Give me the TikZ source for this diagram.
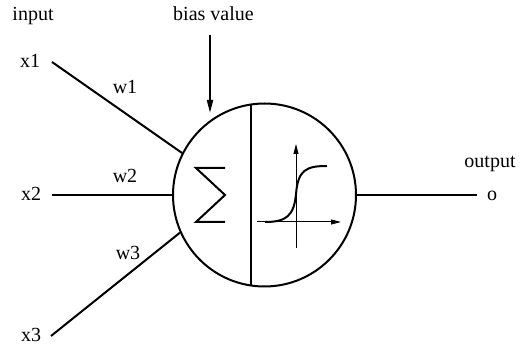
\documentclass[tikz,border=0pt]{standalone}
\usepackage{fontspec}
\setmainfont{Liberation Serif}
\usetikzlibrary{arrows.meta}
\begin{document}
\begin{tikzpicture}[x=1pt,y=-1pt,
  lbl/.style={font=\fontsize{20}{24}\selectfont, anchor=base, inner sep=0pt},
  wire/.style={line width=2pt},
  axis/.style={line width=1pt,-{Triangle[length=10pt,width=5pt]}}]
\useasboundingbox (0,0) rectangle (523,347);
% neuron
\node[draw, line width=2pt, circle, minimum size=183pt, inner sep=0pt] (neuron) at (264.5,195) {};
\coordinate (vtop) at (251,104.5);
\coordinate (vbot) at (251,285.5);
\draw[wire] (vtop) -- (vbot);
% sigma
\draw[wire, line join=miter] (225,168) -- (196,168) -- (225,195) -- (196,222) -- (225,222);
% sigmoid axes
\coordinate (ha) at (257,222); \coordinate (hb) at (341,222);
\coordinate (va) at (296,248); \coordinate (vb) at (296,144);
\draw[axis] (ha) -- (hb);
\draw[axis] (va) -- (vb);
\draw[wire] (265,222) .. controls (286,222) and (294,216) .. (296,194) .. controls (298,170) and (306,166) .. (327,166);
% labels
\node[lbl] (input) at (33,21) {input};
\node[lbl] (bias) at (213.5,21) {bias value};
\node[lbl] (x1) at (30,68) {x1};
\node[lbl] (x2) at (31,201) {x2};
\node[lbl] (x3) at (31,342) {x3};
\node[lbl] (w1) at (125,94) {w1};
\node[lbl] (w2) at (125,183) {w2};
\node[lbl] (w3) at (128,260) {w3};
\node[lbl] (output) at (490,168) {output};
\node[lbl] (o) at (492,201) {o};
% connectors
\coordinate (s1) at (52,62);
\coordinate (s2) at (52,195);
\coordinate (s3) at (51,336);
\coordinate (b0) at (210,35);
\coordinate (b1) at (210,113);
\coordinate (oe) at (477,195);
\draw[wire] (s1) -- (neuron.153);
\draw[wire] (s2) -- (neuron.west);
\draw[wire] (s3) -- (neuron.204);
\draw[wire, -{Triangle[length=13pt,width=6pt]}] (b0) -- (b1);
\draw[wire] (neuron.east) -- (oe);
\end{tikzpicture}
\end{document}
